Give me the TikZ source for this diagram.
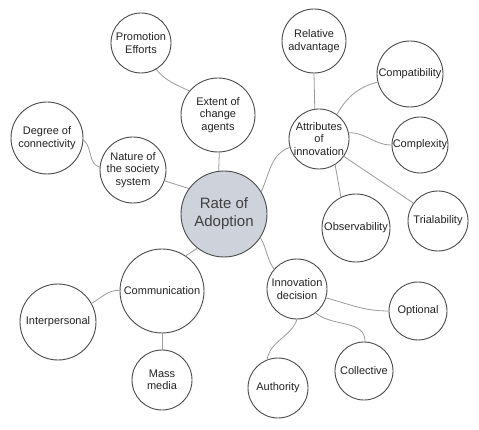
\documentclass[tikz,border=0pt]{standalone}
\usepackage{fontspec}
\setmainfont{Liberation Sans}
\definecolor{ringcol}{HTML}{4A4A4A}
\definecolor{linkcol}{HTML}{9A9A9A}
\definecolor{hubfill}{HTML}{CDD2DB}
\definecolor{txtcol}{HTML}{222222}
\begin{document}
\begin{tikzpicture}[x=1pt,y=-1pt,
  bubble/.style={circle,draw=ringcol,line width=0.9pt,fill=white,inner sep=0pt,align=center,
    text=txtcol,font=\fontsize{11}{12.5}\selectfont},
  hub/.style={bubble,fill=hubfill,font=\fontsize{15}{18}\selectfont,text=black!75},
  link/.style={draw=linkcol,line width=0.8pt}]
\useasboundingbox (0,0) rectangle (479,430);
\node[hub,minimum size=86pt] (rate) at (224,214) {Rate of\\Adoption};
\node[bubble,minimum size=60pt] (prom) at (141,43) {Promotion\\Efforts};
\node[bubble,minimum size=74pt] (ext) at (218,115) {Extent of\\change\\agents};
\node[bubble,minimum size=72pt] (deg) at (47,138) {Degree of\\connectivity};
\node[bubble,minimum size=66pt] (nat) at (133,170) {Nature of\\the society\\system};
\node[bubble,minimum size=64pt] (rel) at (314,41) {Relative\\advantage};
\node[bubble,minimum size=66pt] (comp) at (410,74) {Compatibility};
\node[bubble,minimum size=60pt] (attr) at (319,139) {Attributes\\of\\innovation};
\node[bubble,minimum size=56pt] (cplx) at (420,145) {Complexity};
\node[bubble,minimum size=68pt] (obs) at (356,228) {Observability};
\node[bubble,minimum size=60pt] (tri) at (438,221) {Trialability};
\node[bubble,minimum size=84pt] (comm) at (162,291) {Communication};
\node[bubble,minimum size=76pt] (inter) at (58,322) {Interpersonal};
\node[bubble,minimum size=60pt] (mass) at (162,380) {Mass\\media};
\node[bubble,minimum size=60pt] (innov) at (297,289) {Innovation\\decision};
\node[bubble,minimum size=58pt] (opt) at (418,311) {Optional};
\node[bubble,minimum size=58pt] (coll) at (364,371) {Collective};
\node[bubble,minimum size=60pt] (auth) at (278,388) {Authority};
\begin{scope}[on background layer/.try]
\end{scope}
\path[link] (prom.-60) to[out=-50,in=155] (ext.140);
\path[link] (ext.-88) -- (rate.97);
\path[link] (deg.-3) to[out=-40,in=165] (nat.175);
\path[link] (nat.-19) -- (rate.144);
\path[link] (rate.31) to[out=65,in=200] (attr.196);
\path[link] (rel.-90) -- (attr.98);
\path[link] (attr.54) to[out=60,in=195] (comp.194);
\path[link] (attr.12) to[out=0,in=180] (cplx.180);
\path[link] (attr.-58) -- (obs.116);
\path[link] (attr.-35) -- (tri.144);
\path[link] (rate.232) -- (comm.56);
\path[link] (comm.179) to[out=180,in=30] (inter.29);
\path[link] (comm.-90) -- (mass.90);
\path[link] (rate.-33) to[out=-60,in=125] (innov.139);
\path[link] (innov.-17) to[out=-15,in=180] (opt.180);
\path[link] (innov.-52) to[out=-40,in=90] (coll.88);
\path[link] (innov.-90) to[out=-110,in=80] (auth.111);
\end{tikzpicture}
\end{document}
